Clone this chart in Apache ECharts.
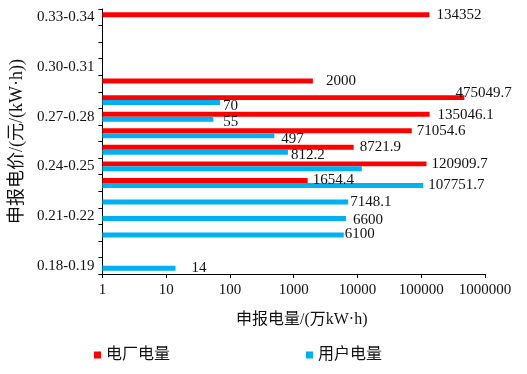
<!DOCTYPE html>
<html>
<head>
<meta charset="utf-8">
<script src="https://cdn.jsdelivr.net/npm/echarts@6/dist/echarts.min.js"></script>
<style>html,body{margin:0;padding:0;background:#fff;}#c{width:527px;height:374px;}</style>
</head>
<body>
<div id="c"></div>
<script>
// Price bands, bottom to top
var categories = ['0.18-0.19','0.19-0.20','0.20-0.21','0.21-0.22','0.22-0.23','0.23-0.24','0.24-0.25','0.25-0.26','0.26-0.27','0.27-0.28','0.28-0.29','0.29-0.30','0.30-0.31','0.31-0.32','0.32-0.33','0.33-0.34'];
// 电厂电量 (plant)
var plantValues = [null,null,null,null,null,1654.4,120909.7,8721.9,71054.6,135046.1,475049.7,2000,null,null,null,134352];
// 用户电量 (user)
var userValues = [14,null,6100,6600,7148.1,107751.7,11700,812.2,497,55,70,null,null,null,null,null];
// values whose labels are not printed
var userHiddenLabels = [6];
var xTickLabels = ['1','10','100','1000','10000','100000','1000000'];
var seriesNames = ['电厂电量','用户电量'];

// label nudges (style only): [dx, dy] by category index
var labelNudge = {
  plant: {5:[0,0],6:[0,0],7:[1,0],8:[0,0],9:[3,1],10:[-14,-5],11:[8,0],15:[2,0]},
  user: {0:[11,0],2:[-4,-1],3:[2,2],4:[-3,0],5:[0,0],7:[-2,2.5],8:[2,3],9:[5,3],10:[-2,3]}
};

var serif = "'Liberation Serif','Times New Roman','Noto Sans CJK SC',serif";
var txt = '#111';

function buildData(vals, nudge, hidden) {
  return vals.map(function (v, i) {
    if (v === null) return '-';
    var n = nudge[i] || [0, 0];
    var show = !(hidden && hidden.indexOf(i) >= 0);
    return { value: v, label: { show: show, offset: n } };
  });
}

var chart = echarts.init(document.getElementById('c'), null, { renderer: 'canvas' });
chart.setOption({
  animation: false,
  backgroundColor: '#fff',
  grid: { left: 97, top: 9, width: 388, height: 265, containLabel: false },
  legend: {
    data: seriesNames,
    left: 89, top: 342,
    itemWidth: 7, itemHeight: 7, itemGap: 136,
    icon: 'rect',
    textStyle: { fontFamily: serif, fontSize: 16, color: txt }
  },
  xAxis: {
    type: 'log', logBase: 10, min: 1, max: 1000000,
    name: '申报电量/(万kW·h)', nameLocation: 'middle', nameGap: 38,
    nameTextStyle: { fontFamily: serif, fontSize: 16, color: txt, padding: [0, 0, 0, 16] },
    axisLine: { show: true, lineStyle: { color: '#000', width: 1 } },
    axisTick: { show: true, length: 4, lineStyle: { color: '#000' } },
    axisLabel: {
      fontFamily: serif, fontSize: 15, color: txt, margin: 9,
      formatter: function (v) { var k = Math.round(Math.log10(v)); return xTickLabels[k] !== undefined ? xTickLabels[k] : ''; }
    },
    splitLine: { show: false },
    minorTick: { show: false }
  },
  yAxis: {
    type: 'category', data: categories,
    name: '申报电价/(元/(kW·h))', nameLocation: 'middle', nameGap: 75, nameRotate: 90,
    nameTextStyle: { fontFamily: serif, fontSize: 18, color: txt },
    axisLine: { show: true, lineStyle: { color: '#000', width: 1 } },
    axisTick: { show: true, length: 4, interval: 0, lineStyle: { color: '#000' } },
    axisLabel: {
      fontFamily: serif, fontSize: 15, color: txt, margin: 8,
      interval: function (i) { return i % 3 === 0; }
    },
    splitLine: { show: false }
  },
  series: [
    {
      name: seriesNames[0], type: 'bar',
      data: buildData(plantValues, labelNudge.plant, null),
      itemStyle: { color: '#FF0000' },
      barGap: '0%', barCategoryGap: '40%',
      label: { show: true, position: 'right', distance: 5, fontFamily: serif, fontSize: 15, color: txt,
        formatter: function (p) { return String(p.value); } }
    },
    {
      name: seriesNames[1], type: 'bar',
      data: buildData(userValues, labelNudge.user, userHiddenLabels),
      itemStyle: { color: '#00B0F0' },
      barGap: '0%', barCategoryGap: '40%',
      label: { show: true, position: 'right', distance: 5, fontFamily: serif, fontSize: 15, color: txt,
        formatter: function (p) { return String(p.value); } }
    }
  ]
});
</script>
</body>
</html>
